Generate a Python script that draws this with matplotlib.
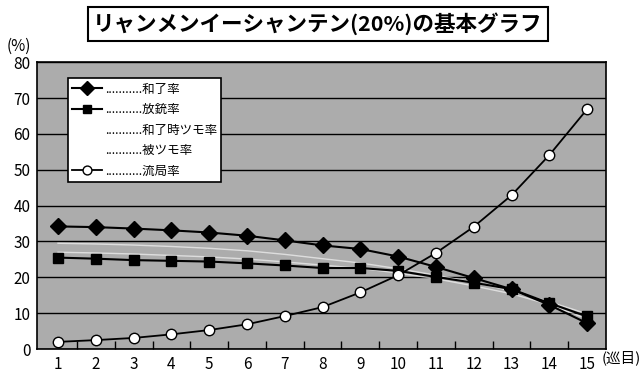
import matplotlib
matplotlib.use("Agg")
import matplotlib.pyplot as plt
import numpy as np

plt.rcParams['font.family'] = ['Noto Sans CJK JP', 'DejaVu Sans']

# data
junme = list(range(1, 16))
hora = [34.2, 34.0, 33.6, 33.1, 32.5, 31.6, 30.3, 28.9, 27.9, 25.8, 22.9, 19.8, 16.7, 12.3, 7.2]
houju = [25.5, 25.2, 24.8, 24.6, 24.4, 23.9, 23.3, 22.6, 22.6, 21.8, 20.1, 18.5, 16.7, 12.8, 9.1]
hora_tsumo = [29.5, 29.3, 29.0, 28.6, 28.1, 27.4, 26.4, 25.2, 24.0, 22.4, 20.6, 18.6, 16.2, 13.2, 9.8]
hi_tsumo = [27.0, 26.8, 26.5, 26.1, 25.7, 25.1, 24.3, 23.4, 22.5, 21.2, 19.6, 17.6, 15.4, 12.4, 8.4]
ryukyoku = [2.0, 2.5, 3.1, 4.1, 5.3, 6.9, 9.2, 11.7, 15.8, 20.6, 26.8, 34.1, 42.9, 54.1, 66.9]

dots = '.' * 11
labels = [dots + '和了率', dots + '放銃率', dots + '和了時ツモ率', dots + '被ツモ率', dots + '流局率']

fig = plt.figure(figsize=(6.42, 3.79), dpi=100)
ax = fig.add_axes([0.058, 0.079, 0.886, 0.757])
ax.set_facecolor('#acacac')

ax.plot(junme, hora, color='black', lw=1.5, marker='D', ms=8.5, mfc='black', mec='black', label=labels[0], zorder=5)
ax.plot(junme, houju, color='black', lw=1.5, marker='s', ms=7, mfc='black', mec='black', label=labels[1], zorder=5)
ax.plot(junme, hora_tsumo, color='white', lw=1.0, alpha=0.6, label=labels[2], zorder=4)
ax.plot(junme, hi_tsumo, color='white', lw=1.0, alpha=0.6, label=labels[3], zorder=4)
ax.plot(junme, ryukyoku, color='black', lw=1.3, marker='o', ms=7.5, mfc='white', mec='black', mew=1.0, label=labels[4], zorder=6)

ax.set_xlim(0.45, 15.5)
ax.set_ylim(0, 80)
ax.set_yticks(range(0, 81, 10))
ax.set_xticks(junme)
ax.set_xticks(np.arange(1.5, 15, 1), minor=True)
ax.grid(axis='y', color='black', lw=1.0)
ax.set_axisbelow(True)
ax.tick_params(axis='both', which='major', length=0, labelsize=11, pad=5)
ax.tick_params(axis='x', which='minor', direction='in', length=6, width=1, color='black')
for s in ax.spines.values():
    s.set_color('black')
    s.set_linewidth(1.2)

leg = ax.legend(loc='upper left', bbox_to_anchor=(0.054, 0.944), borderaxespad=0, frameon=True,
                fancybox=False, edgecolor='black', facecolor='white', framealpha=1, fontsize=9,
                handlelength=2.4, handletextpad=0.2, labelspacing=0.6, borderpad=0.35,
                markerscale=0.85)
leg.get_frame().set_linewidth(1.2)

fig.text(0.010, 0.878, '(%)', fontsize=11, ha='left', va='center')
fig.text(0.998, 0.055, '(巡目)', fontsize=10.5, ha='right', va='center')

fig.text(0.495, 0.937, 'リャンメンイーシャンテン(20%)の基本グラフ', fontsize=15.5, fontweight='bold',
         ha='center', va='center',
         bbox=dict(boxstyle='square,pad=0.25', facecolor='white', edgecolor='black', lw=1.5))

fig.savefig('out.png', dpi=100)
